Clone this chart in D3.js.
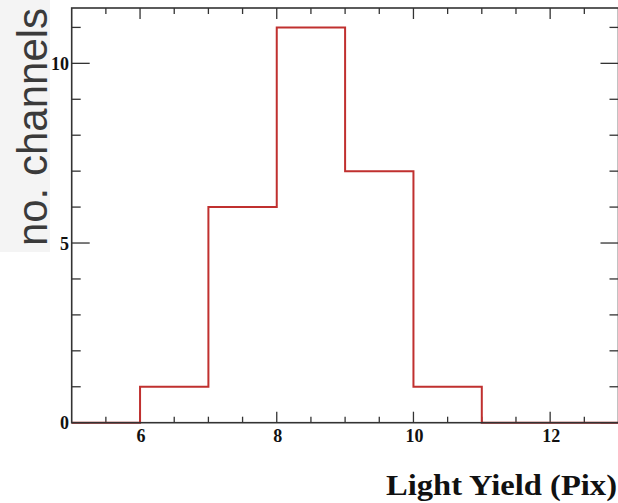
<!DOCTYPE html>
<html><head><meta charset="utf-8">
<script src="https://cdn.jsdelivr.net/npm/d3@7"></script>
<style>body{margin:0;background:#fff;} svg{display:block;}</style>
</head><body>
<svg id="c" width="618" height="503"></svg>
<script>
const binEdges = [5, 6, 7, 8, 9, 10, 11, 12, 13];
const counts = [0, 1, 6, 11, 7, 1, 0, 0];
const xMajorTicks = [6, 8, 10, 12];
const yMajorTicks = [0, 5, 10];
const xTitle = "Light Yield (Pix)";
const yTitle = "no. channels";

const svg = d3.select("#c");
const L = 71.7, R = 618.5, T = 8, B = 422.7;
const x = d3.scaleLinear().domain([5, 13]).range([L, R]);
const y = d3.scaleLinear().domain([0, 11.54]).range([B, T]);

// y title background
svg.append("rect").attr("x", 0).attr("y", 0).attr("width", 50).attr("height", 252).attr("fill", "#f4f4f4");
svg.append("text").attr("transform", `translate(47,${(8+246)/2}) rotate(-90)`)
  .attr("text-anchor", "middle").attr("font-family", "Liberation Sans, Arial, sans-serif")
  .attr("font-size", 42).attr("fill", "#3a3a3a").text(yTitle);

const frameColor = "#333";
const xMinor = d3.range(5.5, 13, 0.5).filter(v => !xMajorTicks.includes(v));
const yMinor = d3.range(1, 12, 1).filter(v => !yMajorTicks.includes(v) && v <= 11.5);

const g = svg.append("g").attr("stroke", frameColor).attr("stroke-width", 1.3);
xMajorTicks.forEach(v => {
  g.append("line").attr("x1", x(v)).attr("x2", x(v)).attr("y1", B).attr("y2", B - 11);
  g.append("line").attr("x1", x(v)).attr("x2", x(v)).attr("y1", T).attr("y2", T + 11);
});
xMinor.forEach(v => {
  g.append("line").attr("x1", x(v)).attr("x2", x(v)).attr("y1", B).attr("y2", B - 6);
  g.append("line").attr("x1", x(v)).attr("x2", x(v)).attr("y1", T).attr("y2", T + 6);
});
yMajorTicks.forEach(v => {
  g.append("line").attr("x1", L).attr("x2", L + 18).attr("y1", y(v)).attr("y2", y(v));
  g.append("line").attr("x1", R).attr("x2", R - 18).attr("y1", y(v)).attr("y2", y(v));
});
yMinor.forEach(v => {
  g.append("line").attr("x1", L).attr("x2", L + 9).attr("y1", y(v)).attr("y2", y(v));
  g.append("line").attr("x1", R).attr("x2", R - 9).attr("y1", y(v)).attr("y2", y(v));
});

// histogram
const pts = binEdges.map((e, i) => [e, i < counts.length ? counts[i] : counts[counts.length - 1]]);
const line = d3.line().x(d => x(d[0])).y(d => y(d[1])).curve(d3.curveStepAfter);
svg.append("path").attr("d", line(pts)).attr("fill", "none").attr("stroke", "#c0302f").attr("stroke-width", 2);

// frame
svg.append("rect").attr("x", L).attr("y", T).attr("width", R - L).attr("height", B - T)
  .attr("fill", "none").attr("stroke", frameColor).attr("stroke-width", 1.6);

// tick labels
const lab = svg.append("g").attr("font-family", "Liberation Serif, Times New Roman, serif")
  .attr("font-weight", "bold").attr("font-size", 18).attr("fill", "#111");
xMajorTicks.forEach(v => {
  lab.append("text").attr("x", x(v) + 1).attr("y", 442).attr("text-anchor", "middle").text(v);
});
yMajorTicks.forEach(v => {
  lab.append("text").attr("x", 69).attr("y", y(v) + 6.5).attr("text-anchor", "end").text(v);
});

svg.append("text").attr("x", 386).attr("y", 495)
  .attr("textLength", 231).attr("lengthAdjust", "spacingAndGlyphs")
  .attr("font-family", "Liberation Serif, Times New Roman, serif").attr("font-weight", "bold")
  .attr("font-size", 30).attr("fill", "#111").text(xTitle);
</script>
</body></html>
